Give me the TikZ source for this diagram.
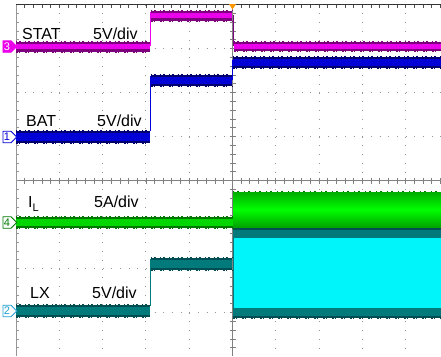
\documentclass[tikz,border=0pt]{standalone}
\usepackage{fontspec}
\setmainfont{Liberation Sans}
\usetikzlibrary{shapes.symbols}
\definecolor{statmag}{RGB}{235,0,235}
\definecolor{statdark}{RGB}{125,0,125}
\definecolor{batblue}{RGB}{0,0,215}
\definecolor{batdark}{RGB}{0,0,110}
\definecolor{ilgreen}{RGB}{0,215,0}
\definecolor{ilbright}{RGB}{0,255,0}
\definecolor{ildark}{RGB}{0,120,0}
\definecolor{lxteal}{RGB}{0,122,122}
\definecolor{lxdark}{RGB}{0,78,82}
\definecolor{lxcyan}{RGB}{0,245,250}
\definecolor{gridgray}{RGB}{150,150,150}
\definecolor{trigorange}{RGB}{255,150,0}
% band of a noisy trace: fill, edge, x1, x2, ytop, ybot
\newcommand\sigband[6]{%
  \fill[#1] (#3,#5) rectangle (#4,#6);
  \fill[#2] (#3,#5) rectangle (#4,#5+2);
  \fill[#2] (#3,#6-2.5) rectangle (#4,#6);
  \draw[#2,line width=1pt,dash pattern=on 1pt off 2pt on 2pt off 4pt] (#3,#5-0.5) -- (#4,#5-0.5);
  \draw[#2,line width=1pt,dash pattern=on 2pt off 1pt on 1pt off 5pt] (#3,#6+0.5) -- (#4,#6+0.5);
}
\begin{document}
\begin{tikzpicture}[x=1pt,y=-1pt,line cap=butt,
  lbl/.style={anchor=base west,inner sep=0pt,font=\fontsize{16}{19}\selectfont},
  chmark/.style={signal,signal to=east,draw=#1,line width=0.8pt,fill=white,text=#1,
    anchor=west,inner xsep=1pt,inner ysep=0pt,minimum height=11.5pt,minimum width=12pt,
    font=\fontsize{11}{11}\selectfont},
  griddot/.style={gridgray,line width=1pt,dash pattern=on 1pt off #1pt},
  axisline/.style={gridgray!85!black,line width=1.2pt}]
  \def\xl{16} \def\yt{4.5} \def\dx{43.3} \def\dy{44} \def\xr{441} \def\yb{356}
  \useasboundingbox (0,0) rectangle (\xr,\yb);
  \clip (0,0) rectangle (\xr,\yb);
  % grid
  \foreach \i in {1,2,3,4,6,7,8,9} \draw[griddot=7.8] (\xl+\i*\dx,\yt) -- (\xl+\i*\dx,\yb);
  \foreach \j in {1,2,3,5,6,7} \draw[griddot=7.66] (\xl,\yt+\j*\dy) -- (\xr,\yt+\j*\dy);
  \draw[axisline] (\xl+5*\dx,\yt) -- (\xl+5*\dx,\yb);
  \draw[axisline] (\xl,\yt+4*\dy) -- (\xr,\yt+4*\dy);
  \foreach \k in {1,...,39} \draw[axisline,line width=0.8pt] (\xl+5*\dx-3,\yt+\k*\dy/5) -- ++(6,0);
  \foreach \k in {1,...,49} \draw[axisline,line width=0.8pt] (\xl+\k*\dx/5,\yt+4*\dy-3) -- ++(0,6);
  \draw[black!80,line width=1pt] (\xl,\yt) -- (\xr,\yt);
  \draw[gridgray,line width=1pt] (\xl,\yt) -- (\xl,\yb);
  \foreach \k in {1,...,49} \draw[black!70,line width=0.8pt] (\xl+\k*\dx/5,\yt) -- ++(0,3);
  \foreach \k in {1,...,39} \draw[gridgray,line width=0.8pt] (\xl,\yt+\k*\dy/5) -- ++(3,0);
  % LX
  \sigband{lxteal}{lxdark}{\xl}{150}{305}{317}
  \draw[lxteal,line width=0.8pt] (150.5,306) -- (150.5,259);
  \sigband{lxteal}{lxdark}{150.5}{232}{258}{270}
  \sigband{lxteal}{lxdark}{233}{\xr}{228}{318}
  \fill[lxcyan] (234,238) rectangle (\xr,308);
  % I_L
  \sigband{ilgreen}{ildark}{\xl}{233}{217}{228}
  \shade[top color=ilgreen!55!ildark,bottom color=ilgreen!45!ildark,middle color=ilbright] (233,192) rectangle (\xr,227);
  \draw[ildark,line width=1pt,dash pattern=on 1pt off 3pt on 2pt off 5pt] (233,191.5) -- (\xr,191.5);
  % BAT
  \sigband{batblue}{batdark}{\xl}{150}{131}{143}
  \draw[batblue,line width=0.8pt] (150.5,131) -- (150.5,76);
  \sigband{batblue}{batdark}{150.5}{232}{75}{86}
  \draw[batblue,line width=0.8pt] (232.5,80) -- (232.5,60);
  \sigband{batblue}{batdark}{233}{\xr}{57}{68}
  % STAT
  \sigband{statmag}{statdark}{\xl}{150}{41.5}{51.5}
  \draw[statmag,line width=0.8pt] (150.5,46) -- (150.5,12);
  \sigband{statmag}{statdark}{150.5}{232}{10.5}{20.5}
  \draw[statdark,line width=0.8pt] (233.5,15) -- (233.5,46);
  \sigband{statmag}{statdark}{234}{\xr}{41.5}{51}
  % trigger
  \fill[trigorange] (\xl+5*\dx-3.5,4) -- (\xl+5*\dx+3.5,4) -- (\xl+5*\dx,9.5) -- cycle;
  % channel markers
  \node[chmark=statmag,fill=statmag,text=white] (ch3) at (2.5,46.5) {3};
  \node[chmark=batblue] (ch1) at (2.5,137) {1};
  \node[chmark=ildark] (ch4) at (2.5,222.5) {4};
  \node[chmark=cyan!85!black] (ch2) at (2.5,311) {2};
  % labels
  \node[lbl] (stat) at (22,39) {STAT};
  \node[lbl] (statdiv) at (93,39) {5V/div};
  \node[lbl] (bat) at (26,126) {BAT};
  \node[lbl] (batdiv) at (97,126) {5V/div};
  \node[lbl] (il) at (28,207.5) {I\raisebox{-4pt}{\fontsize{11}{11}\selectfont L}};
  \node[lbl] (ildiv) at (94,207.5) {5A/div};
  \node[lbl] (lx) at (30,298) {LX};
  \node[lbl] (lxdiv) at (92,298) {5V/div};
\end{tikzpicture}
\end{document}
